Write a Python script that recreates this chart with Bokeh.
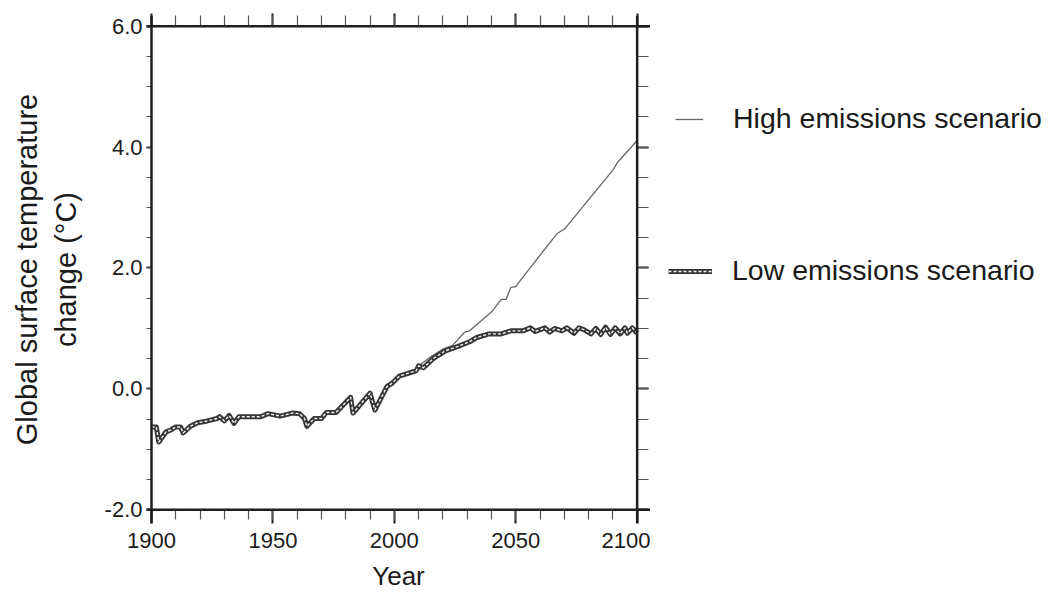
from bokeh.plotting import figure
from bokeh.layouts import row
from bokeh.models import (LinearAxis, Range1d, SingleIntervalTicker, NumeralTickFormatter,
                          CustomJSTickFormatter, Legend, LegendItem, ColumnDataSource, Span)
from bokeh.embed import file_html
from bokeh.resources import INLINE

# ---- data ----
low_years = [1900, 1902, 1903, 1906, 1908, 1910, 1912, 1913, 1916, 1919, 1923, 1927, 1928,
             1930, 1932, 1934, 1936, 1945, 1948, 1953, 1958, 1961, 1963, 1964, 1967, 1970,
             1972, 1976, 1982, 1983, 1990, 1992, 1997, 1999, 2002, 2005, 2009, 2010, 2012,
             2016, 2021, 2026, 2031, 2034, 2039, 2044, 2048, 2053, 2056, 2058, 2062, 2064,
             2066, 2069, 2071, 2074, 2076, 2078, 2081, 2083, 2085, 2087, 2089, 2091, 2093,
             2095, 2096, 2098, 2100]
low_temp = [-0.63, -0.63, -0.88, -0.71, -0.68, -0.63, -0.63, -0.73, -0.62, -0.56, -0.53, -0.49, -0.46,
            -0.53, -0.44, -0.57, -0.46, -0.46, -0.41, -0.45, -0.40, -0.41, -0.49, -0.62, -0.49, -0.49,
            -0.39, -0.39, -0.14, -0.40, -0.07, -0.35, 0.04, 0.09, 0.21, 0.25, 0.30, 0.38, 0.35,
            0.50, 0.63, 0.70, 0.78, 0.85, 0.91, 0.91, 0.96, 0.96, 1.01, 0.95, 1.01, 0.94,
            1.00, 0.96, 1.01, 0.92, 1.01, 0.98, 0.91, 1.00, 0.90, 1.02, 0.90, 1.01, 0.91,
            1.01, 0.92, 1.01, 0.92]

high_years = [2010, 2015, 2020, 2024, 2029, 2031, 2040, 2044, 2046, 2048, 2050, 2052,
              2067, 2070, 2090, 2092, 2100]
high_temp = [0.38, 0.53, 0.66, 0.72, 0.94, 0.96, 1.27, 1.48, 1.48, 1.68, 1.69, 1.80,
             2.57, 2.64, 3.62, 3.75, 4.11]

series_labels = ["High emissions scenario", "Low emissions scenario"]
x_title = "Year"
y_title = "Global surface temperature\nchange (°C)"
x_lim = (1900, 2100)
y_lim = (-2.0, 6.0)

FONT = "Liberation Sans"
AX = "#1e1e1e"
HIGH_STYLE = dict(line_color="#666666", line_width=1.3)
LOW_OUTER = dict(line_color="#353535", line_width=5, line_join="round")
LOW_INNER = dict(line_color="#f4f4f4", line_width=1.4, line_dash="3 2", line_join="round")

p = figure(frame_width=504, frame_height=508, output_backend="svg", toolbar_location=None,
           x_axis_location=None, y_axis_location=None,
           x_range=Range1d(1897.94, 2105.5), y_range=Range1d(-2.227, 6.177),
           min_border_left=146, min_border_top=15, min_border_bottom=70, min_border_right=0)
p.outline_line_color = None
p.xgrid.visible = False
p.ygrid.visible = False
p.background_fill_color = "white"


def style(ax, tin, tout, mtin, mtout):
    ax.axis_line_color = None
    ax.major_tick_line_color = AX
    ax.major_tick_line_width = 2
    ax.minor_tick_line_color = "#555555"
    ax.minor_tick_line_width = 1.2
    ax.major_tick_in = tin
    ax.major_tick_out = tout
    ax.minor_tick_in = mtin
    ax.minor_tick_out = mtout
    ax.major_label_text_font = FONT
    ax.major_label_text_font_size = "22px"
    ax.major_label_text_color = "#1a1a1a"
    ax.axis_label_text_font = FONT
    ax.axis_label_text_font_style = "normal"
    ax.axis_label_text_color = "#1a1a1a"


xt = lambda: SingleIntervalTicker(interval=50, num_minor_ticks=5)
yt = lambda: SingleIntervalTicker(interval=2, num_minor_ticks=4)
blank = CustomJSTickFormatter(code="return ''")

bottom = LinearAxis(ticker=xt(), formatter=NumeralTickFormatter(format="0"), axis_label=x_title)
style(bottom, 14, 0, 14, -4)
bottom.major_label_standoff = 9
bottom.axis_label_text_font_size = "26px"
bottom.axis_label_standoff = 10
p.add_layout(bottom, "below")

top = LinearAxis(ticker=xt(), formatter=blank)
style(top, 11, 2, 11, 0)
p.add_layout(top, "above")

left = LinearAxis(ticker=yt(), formatter=NumeralTickFormatter(format="0.0"), axis_label=y_title)
style(left, 5, 0, 5, 0)
left.major_label_standoff = 4
left.axis_label_text_font_size = "29px"
left.axis_label_standoff = 20
p.add_layout(left, "left")

right = LinearAxis(ticker=yt(), formatter=blank)
style(right, 14, -2, 14, -2)
right.major_label_standoff = 0
p.add_layout(right, "right")

# frame lines at the axis limits (they run past the corners, as in the reference)
for loc, dim in ((x_lim[0], "height"), (x_lim[1], "height"), (y_lim[0], "width"), (y_lim[1], "width")):
    p.add_layout(Span(location=loc, dimension=dim, line_color=AX, line_width=2.5))

# ---- series ----
src_low = ColumnDataSource(dict(x=low_years, y=low_temp))
src_high = ColumnDataSource(dict(x=high_years, y=high_temp))

p.line("x", "y", source=src_high, **HIGH_STYLE)
p.line("x", "y", source=src_low, **LOW_OUTER)
p.line("x", "y", source=src_low, **LOW_INNER)

# ---- legend panel (a second, axis-less figure beside the chart) ----
# its renderers share the data but lie outside its own ranges, so only the legends show
pl = figure(width=393, height=593, output_backend="svg", toolbar_location=None,
            x_axis_location=None, y_axis_location=None,
            x_range=Range1d(0, 1), y_range=Range1d(0, 1), min_border=0)
pl.outline_line_color = None
pl.grid.visible = False
lh = pl.line("x", "y", source=src_high, **HIGH_STYLE)
lo = pl.line("x", "y", source=src_low, **LOW_OUTER)
li = pl.line("x", "y", source=src_low, **LOW_INNER)

leg_high = Legend(items=[LegendItem(label=series_labels[0], renderers=[lh])],
                  location=(25, 388), glyph_width=28, label_standoff=30)
leg_low = Legend(items=[LegendItem(label=series_labels[1], renderers=[lo, li])],
                 location=(18, 236), glyph_width=44, label_standoff=20)
for lg in (leg_high, leg_low):
    lg.padding = 0
    lg.margin = 0
    lg.border_line_color = None
    lg.background_fill_alpha = 0
    lg.label_text_font = FONT
    lg.label_text_font_size = "28.5px"
    lg.label_text_color = "#1a1a1a"
    lg.label_height = 30
    lg.glyph_height = 30
    pl.add_layout(lg)

open("out.html", "w").write(file_html(row(p, pl), INLINE))
